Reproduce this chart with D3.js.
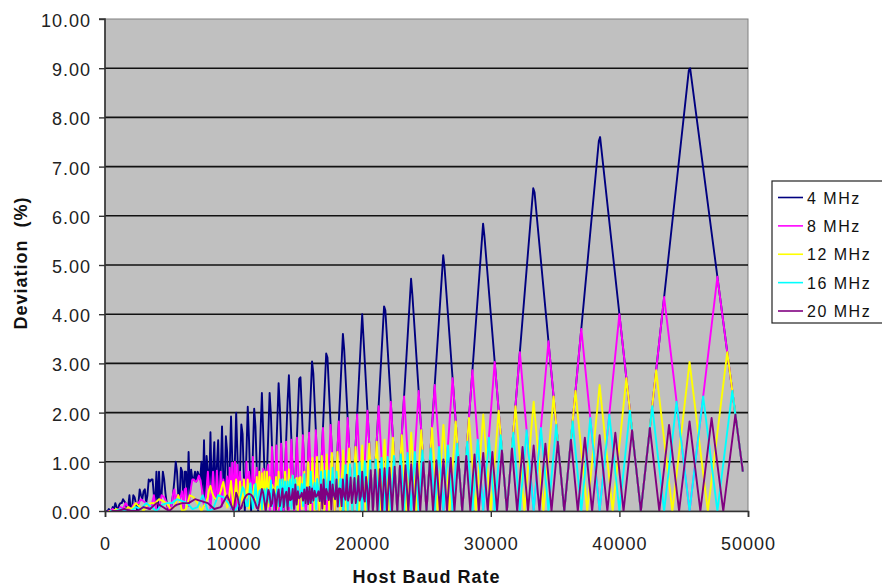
<!DOCTYPE html>
<html>
<head>
<meta charset="utf-8">
<script src="https://cdn.jsdelivr.net/npm/d3@7"></script>
<style>
  html, body { margin: 0; padding: 0; background: #ffffff; }
  svg { display: block; font-family: "Liberation Sans", Arial, sans-serif; }
</style>
</head>
<body>
<svg id="chart" width="882" height="586"></svg>
<script>
// ---------- data (Host baud rate, deviation %) ----------
const seriesNames = ["4 MHz", "8 MHz", "12 MHz", "16 MHz", "20 MHz"];
const xTicks = [0, 10000, 20000, 30000, 40000, 50000];
const yTicks = [0, 1, 2, 3, 4, 5, 6, 7, 8, 9, 10];
const xTitle = "Host Baud Rate";
const yTitle = "Deviation\u00a0\u00a0(%)";

const mhz4 = [
[100,0],[200,0],[300,0.04],[400,0],[500,0],[600,0.08],[700,0.04],[800,0.16],[900,0.08],[1000,0],
[1100,0.12],[1200,0.16],[1300,0.16],[1400,0.24],[1500,0.20],[1600,0.16],[1700,0.04],[1800,0.08],[1900,0.32],[2000,0],
[2100,0.04],[2200,0.32],[2300,0.28],[2400,0.16],[2500,0],[2600,0.16],[2700,0.44],[2800,0.32],[2900,0.24],[3000,0.40],
[3100,0.44],[3200,0.16],[3300,0.32],[3400,0.64],[3500,0.60],[3600,0.64],[3700,0.64],[3800,0.32],[3900,0.16],[4000,0.80],
[4100,0.04],[4200,0.80],[4300,0.24],[4400,0.32],[4500,0.80],[4600,0.64],[4700,0.36],[4800,0.16],[4900,0.04],[5000,0],
[5100,0.04],[5200,0.16],[5300,0.36],[5400,0.64],[5500,1.00],[5600,0.80],[5700,0.32],[5800,0.24],[5900,0.88],[6000,0.80],
[6100,0.04],[6200,0.80],[6300,0.80],[6400,0.16],[6500,1.20],[6600,0.32],[6700,0.84],[6800,0.64],[6900,0.64],[7000,0.80],
[7100,0.60],[7200,0.80],[7300,0.72],[7400,0.64],[7500,1.00],[7600,0.32],[7700,1.44],[7800,0.16],[7900,1.12],[8000,0.80],
[8100,0.44],[8200,1.60],[8300,0.40],[8400,0.80],[8500,1.40],[8600,0.24],[8700,0.92],[8800,1.44],[8900,0.32],[9000,0.80],
[9100,1.72],[9200,0.64],[9300,0.44],[9400,1.52],[9500,1.20],[9600,0.16],[9700,0.88],[9800,1.92],[9900,1.00],[10000,0],
[10200,2.00],[10300,1.12],[10417,0],[10600,1.76],[10700,1.56],[10870,0],[11100,2.12],[11200,1.44],[11364,0],
[11600,2.08],[11700,1.72],[11905,0],[12100,1.64],[12200,2.40],[12500,0],[12800,2.40],[12900,1.96],[13158,0],
[13500,2.60],[13600,2.08],[13889,0],[14200,2.24],[14300,2.76],[14706,0],[15100,2.68],[15200,2.72],[15625,0],
[16100,3.04],[16200,2.80],[16667,0],[17200,3.20],[17300,3.12],[17857,0],[18500,3.60],[18600,3.28],[19231,0],
[19900,3.48],[20000,4.00],[20100,3.52],[20833,0],[21700,4.16],[21800,4.08],[22727,0],[23800,4.72],[23900,4.40],[25000,0],
[26300,5.20],[26400,4.96],[27778,0],[29400,5.84],[29500,5.60],[31250,0],[33300,6.56],[33400,6.48],[35714,0],
[38400,7.52],[38500,7.60],[41667,0],[45400,8.96],[45500,9.00],[49600,0.80]
];

const mhz8 = [
[200,0],[400,0],[600,0.04],[800,0],[1000,0],[1200,0.08],[1400,0.04],[1600,0.16],[1800,0.08],[2000,0],
[2200,0.12],[2400,0.16],[2600,0.16],[2800,0.24],[3000,0.20],[3200,0.16],[3400,0.04],[3600,0.08],[3800,0.32],[4000,0],
[4200,0.04],[4400,0.32],[4600,0.28],[4800,0.16],
[5000,0],[5100,0.04],[5200,0.16],[5300,0.36],[5400,0.44],[5500,0.10],[5600,0.32],[5700,0.32],[5800,0.24],[5900,0.30],
[6000,0.40],[6100,0.04],[6200,0.44],[6300,0.46],[6400,0.16],[6500,0.10],[6600,0.32],[6700,0.50],[6800,0.64],[6900,0.64],
[7000,0.60],[7100,0.60],[7200,0.64],[7300,0.72],[7400,0.64],[7500,0.50],[7600,0.32],[7700,0.10],[7800,0.16],[7900,0.46],
[8000,0.80],[8100,0.44],[8200,0.04],[8300,0.40],[8400,0.80],[8500,0.30],[8600,0.24],[8700,0.82],[8800,0.32],[8900,0.32],
[9000,0.80],[9100,0.10],[9200,0.64],[9300,0.44],[9400,0.36],[9500,0.70],[9600,0.16],[9700,0.88],[9800,0.04],[9900,0.98],
[10000,0],[10100,1.00],[10200,0.04],[10300,0.94],[10400,0.16],[10500,0.80],[10600,0.36],[10700,0.58],[10800,0.64],[10900,0.28],
[11000,1.00],[11100,0.10],[11200,0.80],[11300,0.56],[11400,0.32],[11500,1.10],[11600,0.24],[11700,0.62],[11800,0.88],[11900,0.04],
[12000,0.80],[12100,0.78],[12200,0.04],[12300,0.86],[12400,0.80],[12500,0],[12600,0.80],[12700,0.94],[12800,0.16],
[12821,0],[12987,1.30],[13158,0],[13333,1.33],[13514,0],[13699,1.37],[13889,0],[14085,1.41],[14286,0],[14493,1.45],
[14706,0],[14925,1.49],[15152,0],[15385,1.54],[15625,0],[15873,1.59],[16129,0],[16393,1.64],[16667,0],[16949,1.69],
[17241,0],[17544,1.75],[17857,0],[18182,1.82],[18519,0],[18868,1.89],[19231,0],[19608,1.96],[20000,0],[20408,2.04],
[20833,0],[21277,2.13],[21739,0],[22222,2.22],[22727,0],[23256,2.33],[23810,0],[24390,2.44],[25000,0],[25641,2.56],
[26316,0],[27027,2.70],[27778,0],[28571,2.86],[29412,0],[30303,3.03],[31250,0],[32258,3.23],[33333,0],[34483,3.45],
[35714,0],[37037,3.70],[38462,0],[40000,4.00],[41667,0],[43478,4.35],[45455,0],[47619,4.76],[49600,0.80]
];

const mhz12 = [
[300,0],[600,0],[900,0.04],[1200,0],[1500,0],[1800,0.08],[2100,0.04],[2400,0.16],[2700,0.08],[3000,0],
[3300,0.12],[3600,0.16],[3900,0.16],[4200,0.24],[4500,0.20],[4800,0.16],[5100,0.04],[5400,0.08],[5700,0.32],[6000,0],
[6300,0.04],[6600,0.32],[6900,0.28],[7200,0.16],[7500,0],[7800,0.16],
[8000,0.27],[8100,0.44],[8200,0.51],[8300,0.40],[8400,0.32],[8500,0.27],[8600,0.24],[8700,0.24],[8800,0.27],[8900,0.32],
[9000,0.40],[9100,0.51],[9200,0.59],[9300,0.44],[9400,0.27],[9500,0.07],[9600,0.16],[9700,0.41],[9800,0.61],[9900,0.32],
[10000,0],[10100,0.35],[10200,0.64],[10300,0.25],[10400,0.16],[10500,0.60],[10600,0.35],[10700,0.13],[10800,0.64],[10900,0.28],
[11000,0.27],[11100,0.64],[11200,0.05],[11300,0.56],[11400,0.32],[11500,0.33],[11600,0.53],[11700,0.16],[11800,0.69],[11900,0.04],
[12000,0.80],[12100,0.03],[12200,0.77],[12300,0.04],[12400,0.80],[12500,0],[12600,0.80],[12700,0.09],[12800,0.69],[12900,0.24],
[13000,0.53],[13100,0.44],[13200,0.32],[13300,0.69],[13400,0.05],[13500,0.80],[13600,0.27],[13700,0.47],[13800,0.64],[13900,0.08],
[14000,0.80],[14100,0.36],[14200,0.35],[14300,0.85],[14400,0.16],[14500,0.53],[14600,0.72],[14700,0.04],[14800,0.64],[14900,0.67],
[15000,0],[15100,0.67],[15200,0.69],[15300,0.04],[15400,0.61],[15500,0.80],[15600,0.16],[15700,0.48],[15800,0.99],[15900,0.36],
[15957,0],[16129,1.08],[16304,0],[16484,1.10],[16667,0],[16854,1.12],[17045,0],[17241,1.15],[17442,0],[17647,1.18],
[17857,0],[18072,1.20],[18293,0],[18519,1.23],[18750,0],[18987,1.27],[19231,0],[19481,1.30],[19737,0],[20000,1.33],
[20270,0],[20548,1.37],[20833,0],[21127,1.41],[21429,0],[21739,1.45],[22059,0],[22388,1.49],[22727,0],[23077,1.54],
[23438,0],[23810,1.59],[24194,0],[24590,1.64],[25000,0],[25424,1.69],[25862,0],[26316,1.75],[26786,0],[27273,1.82],
[27778,0],[28302,1.89],[28846,0],[29412,1.96],[30000,0],[30612,2.04],[31250,0],[31915,2.13],[32609,0],[33333,2.22],
[34091,0],[34884,2.33],[35714,0],[36585,2.44],[37500,0],[38462,2.56],[39474,0],[40541,2.70],[41667,0],[42857,2.86],
[44118,0],[45455,3.03],[46875,0],[48387,3.23],[49600,0.80]
];

const mhz16 = [
[400,0],[800,0],[1200,0.04],[1600,0],[2000,0],[2400,0.08],[2800,0.04],[3200,0.16],[3600,0.08],[4000,0],
[4400,0.12],[4800,0.16],[5200,0.16],[5600,0.24],[6000,0.20],[6400,0.16],[6800,0.04],[7200,0.08],[7600,0.32],[8000,0],
[8400,0.04],[8800,0.32],[9200,0.28],[9600,0.16],
[10000,0],[10100,0.01],[10200,0.04],[10300,0.09],[10400,0.16],[10500,0.25],[10600,0.36],[10700,0.49],[10800,0.44],[10900,0.28],
[11000,0.10],[11100,0.10],[11200,0.32],[11300,0.56],[11400,0.32],[11500,0.05],[11600,0.24],[11700,0.55],[11800,0.30],[11900,0.04],
[12000,0.40],[12100,0.43],[12200,0.04],[12300,0.37],[12400,0.44],[12500,0],[12600,0.46],[12700,0.33],[12800,0.16],[12900,0.62],
[13000,0.10],[13100,0.44],[13200,0.32],[13300,0.25],[13400,0.50],[13500,0.10],[13600,0.64],[13700,0.01],[13800,0.64],[13900,0.08],
[14000,0.60],[14100,0.11],[14200,0.60],[14300,0.10],[14400,0.64],[14500,0.05],[14600,0.72],[14700,0.04],[14800,0.64],[14900,0.17],
[15000,0.50],[15100,0.34],[15200,0.32],[15300,0.55],[15400,0.10],[15500,0.75],[15600,0.16],[15700,0.48],[15800,0.46],[15900,0.17],
[16000,0.80],[16100,0.18],[16200,0.44],[16300,0.57],[16400,0.04],[16500,0.65],[16600,0.40],[16700,0.20],[16800,0.80],[16900,0.29],
[17000,0.30],[17100,0.82],[17200,0.24],[17300,0.34],[17400,0.82],[17500,0.25],[17600,0.32],[17700,0.88],[17800,0.32],[17900,0.24],
[18000,0.80],[18100,0.45],[18200,0.10],[18300,0.65],[18400,0.64],[18500,0.10],
[18519,0],[18692,0.93],[18868,0],[19048,0.95],[19231,0],[19417,0.97],[19608,0],[19802,0.99],[20000,0],[20202,1.01],
[20408,0],[20619,1.03],[20833,0],[21053,1.05],[21277,0],[21505,1.08],[21739,0],[21978,1.10],[22222,0],[22472,1.12],
[22727,0],[22989,1.15],[23256,0],[23529,1.18],[23810,0],[24096,1.20],[24390,0],[24691,1.23],[25000,0],[25316,1.27],
[25641,0],[25974,1.30],[26316,0],[26667,1.33],[27027,0],[27397,1.37],[27778,0],[28169,1.41],[28571,0],[28986,1.45],
[29412,0],[29851,1.49],[30303,0],[30769,1.54],[31250,0],[31746,1.59],[32258,0],[32787,1.64],[33333,0],[33898,1.69],
[34483,0],[35088,1.75],[35714,0],[36364,1.82],[37037,0],[37736,1.89],[38462,0],[39216,1.96],[40000,0],[40816,2.04],
[41667,0],[42553,2.13],[43478,0],[44444,2.22],[45455,0],[46512,2.33],[47619,0],[48780,2.44],[49600,0.80]
];

const mhz20 = [
[500,0],[1000,0],[1500,0.04],[2000,0],[2500,0],[3000,0.08],[3500,0.04],[4000,0.16],[4500,0.08],[5000,0],
[5500,0.12],[6000,0.16],[6500,0.16],[7000,0.24],[7500,0.20],[8000,0.16],[8500,0.04],[9000,0.08],[9500,0.32],
[10000,0],[10100,0.19],[10200,0.37],[10300,0.30],[10400,0.16],[10500,0.04],[10600,0.06],[10700,0.15],[10800,0.22],[10900,0.28],
[11000,0.32],[11100,0.34],[11200,0.35],[11300,0.34],[11400,0.32],[11500,0.28],[11600,0.22],[11700,0.15],[11800,0.06],[11900,0.04],
[12000,0.16],[12100,0.30],[12200,0.45],[12300,0.37],[12400,0.19],[12500,0],[12600,0.21],[12700,0.43],[12800,0.35],[12900,0.10],
[13000,0.16],[13100,0.44],[13200,0.32],[13300,0.02],[13400,0.30],[13500,0.44],[13600,0.10],[13700,0.26],[13800,0.46],[13900,0.08],
[14000,0.32],[14100,0.39],[14200,0.03],[14300,0.47],[14400,0.22],[14500,0.24],[14600,0.45],[14700,0.04],[14800,0.54],[14900,0.13],
[15000,0.40],[15100,0.26],[15200,0.29],[15300,0.37],[15400,0.21],[15500,0.44],[15600,0.16],[15700,0.48],[15800,0.14],[15900,0.49],
[16000,0.16],[16100,0.46],[16200,0.21],[16300,0.41],[16400,0.29],[16500,0.32],[16600,0.40],[16700,0.20],[16800,0.54],[16900,0.05],
[17000,0.64],[17100,0.14],[17200,0.45],[17300,0.35],[17400,0.22],[17500,0.60],[17600,0.03],[17700,0.54],[17800,0.32],[17900,0.24],
[18000,0.64],[18100,0.09],[18200,0.46],[18300,0.45],[18400,0.10],[18500,0.64],[18600,0.30],[18700,0.23],[18800,0.74],[18900,0.21],
[19000,0.32],[19100,0.68],[19200,0.16],[19300,0.36],[19400,0.67],[19500,0.16],[19600,0.35],[19700,0.71],[19800,0.21],[19900,0.30],
[20000,0.80],[20100,0.30],[20200,0.19],[20300,0.69],[20400,0.45],
[20492,0],[20661,0.83],[20833,0],[21008,0.84],[21186,0],[21368,0.85],[21552,0],[21739,0.87],[21930,0],[22124,0.88],
[22321,0],[22523,0.90],[22727,0],[22936,0.92],[23148,0],[23364,0.93],[23585,0],[23810,0.95],[24038,0],[24272,0.97],
[24510,0],[24752,0.99],[25000,0],[25253,1.01],[25510,0],[25773,1.03],[26042,0],[26316,1.05],[26596,0],[26882,1.08],
[27174,0],[27473,1.10],[27778,0],[28090,1.12],[28409,0],[28736,1.15],[29070,0],[29412,1.18],[29762,0],[30120,1.20],
[30488,0],[30864,1.23],[31250,0],[31646,1.27],[32051,0],[32468,1.30],[32895,0],[33333,1.33],[33784,0],[34247,1.37],
[34722,0],[35211,1.41],[35714,0],[36232,1.45],[36765,0],[37313,1.49],[37879,0],[38462,1.54],[39063,0],[39683,1.59],
[40323,0],[40984,1.64],[41667,0],[42373,1.69],[43103,0],[43860,1.75],[44643,0],[45455,1.82],[46296,0],[47170,1.89],
[48077,0],[49020,1.96],[49600,0.80]
];

const seriesData = [mhz4, mhz8, mhz12, mhz16, mhz20];
const seriesColors = ["#000080", "#ff00ff", "#ffff00", "#00ffff", "#800080"];

// ---------- layout ----------
const svg = d3.select("#chart");
const plot = { left: 105, right: 748, top: 19, bottom: 511 };

const x = d3.scaleLinear().domain([0, 50000]).range([plot.left, plot.right]);
const y = d3.scaleLinear().domain([0, 10]).range([plot.bottom, plot.top]);

svg.append("rect").attr("x", 0).attr("y", 0).attr("width", 882).attr("height", 586).attr("fill", "#ffffff");

// plot background
svg.append("rect")
  .attr("x", plot.left).attr("y", plot.top)
  .attr("width", plot.right - plot.left).attr("height", plot.bottom - plot.top)
  .attr("fill", "#c0c0c0").attr("stroke", "#808080").attr("stroke-width", 1);

// gridlines
svg.append("g").selectAll("line")
  .data(yTicks.filter(d => d > 0 && d < 10))
  .join("line")
  .attr("x1", plot.left).attr("x2", plot.right)
  .attr("y1", d => y(d)).attr("y2", d => y(d))
  .attr("stroke", "#111").attr("stroke-width", 1.6);

// clip
svg.append("clipPath").attr("id", "clip")
  .append("rect").attr("x", plot.left).attr("y", plot.top - 2)
  .attr("width", plot.right - plot.left).attr("height", plot.bottom - plot.top + 2);

const line = d3.line().x(d => x(d[0])).y(d => y(d[1]));

const lines = svg.append("g").attr("clip-path", "url(#clip)");
seriesData.forEach((s, i) => {
  lines.append("path")
    .datum(s)
    .attr("d", line)
    .attr("fill", "none")
    .attr("stroke", seriesColors[i])
    .attr("stroke-width", 1.9)
    .attr("stroke-linejoin", "round");
});

// axes
const yAxis = svg.append("g")
  .attr("transform", `translate(${plot.left},0)`)
  .call(d3.axisLeft(y).tickValues(yTicks).tickFormat(d3.format(".2f")).tickSize(6).tickPadding(8));
const xAxis = svg.append("g")
  .attr("transform", `translate(0,${plot.bottom})`)
  .call(d3.axisBottom(x).tickValues(xTicks).tickFormat(d3.format("d")).tickSize(6).tickPadding(20));

[yAxis, xAxis].forEach(a => {
  a.select(".domain").attr("stroke", "#333").attr("stroke-width", 1.6);
  a.selectAll(".tick line").attr("stroke", "#333").attr("stroke-width", 1.4);
  a.selectAll(".tick text")
    .attr("fill", "#222")
    .style("font-family", "'Liberation Sans', Arial, sans-serif")
    .style("font-size", "18px")
    .style("letter-spacing", "1px");
});
yAxis.select(".domain").attr("d", `M-6,${plot.top}H0V${plot.bottom}`);
yAxis.selectAll(".tick text").attr("dy", "0.42em");

// axis titles
svg.append("text")
  .attr("x", (plot.left + plot.right) / 2).attr("y", 583)
  .attr("text-anchor", "middle")
  .style("font-size", "18px").style("font-weight", "bold").style("letter-spacing", "1px")
  .attr("fill", "#111")
  .text(xTitle);

svg.append("text")
  .attr("transform", "translate(27,263) rotate(-90)")
  .attr("text-anchor", "middle")
  .style("font-size", "18px").style("font-weight", "bold").style("letter-spacing", "1px")
  .attr("fill", "#111")
  .text(yTitle);

// legend
const legend = svg.append("g");
legend.append("rect")
  .attr("x", 772).attr("y", 181).attr("width", 112).attr("height", 142)
  .attr("fill", "#ffffff").attr("stroke", "#222").attr("stroke-width", 1.2);
const legendY = d3.scalePoint().domain(seriesNames).range([197.5, 311]);
seriesNames.forEach((name, i) => {
  const ly = legendY(name);
  legend.append("line")
    .attr("x1", 778).attr("x2", 803).attr("y1", ly).attr("y2", ly)
    .attr("stroke", seriesColors[i]).attr("stroke-width", 1.6);
  legend.append("text")
    .attr("x", 807).attr("y", ly + 6)
    .style("font-size", "16px").style("letter-spacing", "1.5px")
    .attr("fill", "#111")
    .text(name);
});
</script>
</body>
</html>
